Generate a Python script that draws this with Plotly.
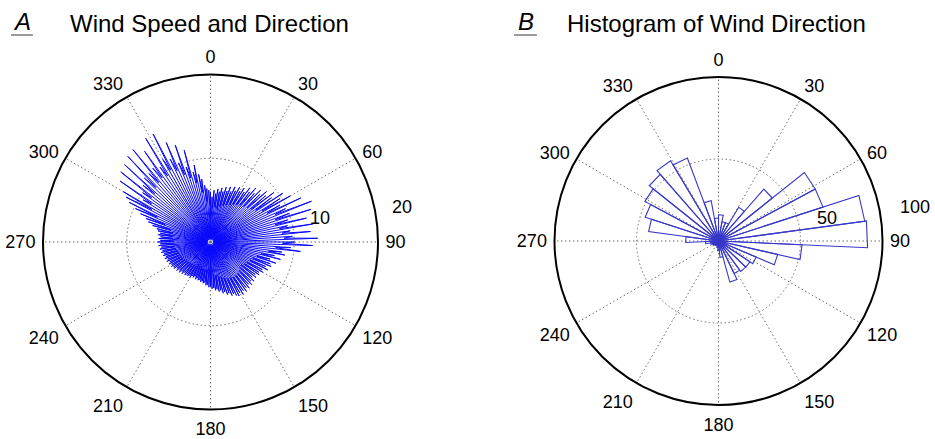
import plotly.graph_objects as go

# Panel A: wind samples ordered by direction (degrees from north, 1-degree steps)
# and the matching speeds (m/s), ten directions per row
wind_dir = list(range(0, 360))
wind_speed = [
    6.0, 0.4, 5.4, 4.0, 6.2, 0.8, 5.8, 4.2, 6.4, 0.3,
    6.1, 4.1, 6.6, 0.6, 6.2, 4.4, 6.8, 0.9, 6.4, 4.6,
    7.0, 0.5, 6.5, 4.8, 7.2, 0.4, 6.8, 5.0, 7.4, 0.8,
    7.0, 5.2, 7.6, 0.3, 7.2, 5.4, 8.0, 0.6, 7.6, 5.6,
    8.4, 0.9, 7.8, 5.8, 8.6, 0.5, 8.2, 6.0, 9.0, 0.4,
    8.6, 6.2, 9.6, 0.8, 9.0, 6.6, 10.4, 0.3, 9.8, 7.2,
    11.0, 0.6, 9.4, 7.6, 12.0, 0.9, 9.8, 8.4, 13.0, 0.5,
    10.0, 8.2, 12.6, 0.4, 9.6, 8.0, 11.8, 0.8, 9.4, 8.4,
    12.4, 0.3, 9.6, 8.6, 12.0, 0.6, 9.8, 8.8, 12.8, 0.9,
    10.0, 8.6, 12.2, 0.5, 9.6, 7.8, 10.8, 0.4, 8.6, 7.0,
    9.0, 0.8, 7.8, 6.2, 8.6, 0.3, 7.4, 5.8, 8.2, 0.6,
    7.6, 5.4, 7.8, 0.9, 7.2, 5.2, 7.6, 0.5, 7.0, 5.0,
    7.2, 0.4, 6.8, 4.8, 7.0, 0.8, 6.6, 4.6, 6.9, 0.3,
    6.5, 4.6, 7.0, 0.6, 6.7, 4.8, 7.1, 0.9, 6.8, 4.9,
    7.2, 0.5, 6.9, 5.0, 7.3, 0.4, 7.0, 5.0, 7.4, 0.8,
    7.0, 4.9, 7.3, 0.3, 7.1, 4.8, 6.8, 0.6, 6.9, 4.6,
    6.5, 0.9, 6.6, 4.4, 6.2, 0.5, 6.3, 4.2, 5.9, 0.4,
    6.0, 4.0, 5.7, 0.8, 5.8, 3.8, 5.5, 0.3, 5.6, 3.7,
    5.3, 0.6, 5.4, 3.6, 5.1, 0.9, 5.2, 3.5, 4.9, 0.5,
    5.0, 3.4, 4.8, 0.4, 4.9, 3.3, 4.7, 0.8, 4.8, 3.2,
    4.6, 0.3, 4.8, 3.2, 4.5, 0.6, 4.7, 3.1, 4.6, 0.9,
    4.9, 3.3, 4.7, 0.5, 4.9, 3.3, 4.8, 0.4, 5.0, 3.4,
    4.8, 0.8, 5.1, 3.4, 4.9, 0.3, 5.2, 3.5, 5.0, 0.6,
    5.3, 3.6, 5.1, 0.9, 5.4, 3.7, 5.3, 0.5, 5.5, 3.8,
    5.3, 0.4, 5.6, 3.9, 5.4, 0.8, 5.7, 4.0, 5.5, 0.3,
    5.8, 4.0, 5.6, 0.6, 5.9, 4.1, 5.7, 0.9, 6.0, 4.2,
    5.8, 0.5, 6.1, 4.3, 5.9, 0.4, 6.2, 4.4, 6.0, 0.8,
    6.3, 4.4, 6.0, 0.3, 6.2, 4.5, 6.0, 0.6, 6.3, 4.5,
    6.1, 0.9, 6.4, 4.6, 6.6, 0.5, 7.2, 5.0, 7.8, 0.4,
    8.2, 5.8, 9.0, 0.8, 9.8, 7.0, 10.8, 0.3, 11.4, 8.0,
    12.0, 0.6, 9.5, 8.4, 13.0, 0.9, 10.0, 8.8, 13.6, 0.5,
    10.5, 8.8, 13.8, 0.4, 11.0, 9.2, 14.2, 0.8, 11.0, 9.4,
    14.4, 0.3, 11.2, 9.6, 13.4, 0.6, 10.8, 9.4, 14.6, 0.9,
    11.4, 9.8, 14.6, 0.5, 11.0, 9.4, 13.0, 0.4, 10.2, 8.6,
    12.3, 0.8, 9.4, 8.0, 11.4, 0.3, 8.6, 7.2, 9.4, 0.6,
    8.2, 6.0, 7.6, 0.9, 6.8, 4.8, 6.4, 0.5, 6.2, 4.4,
]

# Panel B: direction histogram with 35 equal bins over the full circle
n_bins = 35
bin_count = [
    16, 12, 12, 24, 42, 67, 67, 90, 91, 51,
    37, 25, 23, 23, 22, 26, 10, 6, 4, 3,
    3, 3, 4, 4, 5, 8, 20, 43, 47, 51,
    54, 57, 54, 25, 14,
]

angle_ticks = [0, 30, 60, 90, 120, 150, 180, 210, 240, 270, 300, 330]

BLUE_A = "rgb(10,10,250)"
BLUE_B = "rgb(55,55,200)"
GRID = "rgb(110,110,110)"
FONT = "Arial, Liberation Sans, sans-serif"

fig = go.Figure()

# wind speed vs direction, drawn as a closed polyline
fig.add_trace(go.Scatterpolar(
    r=wind_speed + wind_speed[:1],
    theta=wind_dir + wind_dir[:1],
    mode="lines",
    line=dict(color=BLUE_A, width=1),
    subplot="polar",
    showlegend=False,
    hoverinfo="skip",
))

# rose histogram: each bin is an outlined wedge centre -> edge -> edge -> centre
bin_width = 360 / n_bins
rose_r, rose_t = [], []
for k, count in enumerate(bin_count):
    a0, a1 = k * bin_width, (k + 1) * bin_width
    rose_r += [0, count, count, 0, None]
    rose_t += [a0, a0, a1, a1, None]
fig.add_trace(go.Scatterpolar(
    r=rose_r,
    theta=rose_t,
    mode="lines",
    line=dict(color=BLUE_B, width=1.1),
    connectgaps=False,
    subplot="polar2",
    showlegend=False,
    hoverinfo="skip",
))


def polar_layout(domain_x, domain_y, rmax, rgrid):
    return dict(
        domain=dict(x=domain_x, y=domain_y),
        bgcolor="white",
        angularaxis=dict(
            rotation=90,
            direction="clockwise",
            tickmode="array",
            tickvals=angle_ticks,
            ticktext=[str(a) for a in angle_ticks],
            ticks="outside",
            ticklen=3,
            tickcolor="rgba(0,0,0,0)",
            showline=True,
            linecolor="black",
            linewidth=2,
            showgrid=True,
            gridcolor=GRID,
            griddash="1.5px,2.5px",
            gridwidth=1,
            tickfont=dict(family=FONT, size=18, color="black"),
        ),
        radialaxis=dict(
            range=[0, rmax],
            tickvals=rgrid,
            showticklabels=False,
            ticks="",
            showline=False,
            showgrid=True,
            gridcolor=GRID,
            griddash="1.5px,2.5px",
            gridwidth=1,
        ),
    )


W, H = 935, 439
fig.update_layout(
    width=W,
    height=H,
    margin=dict(l=0, r=0, t=0, b=0),
    paper_bgcolor="white",
    plot_bgcolor="white",
    polar=polar_layout([43 / W, 378 / W], [(H - 409.5) / H, (H - 74.5) / H], 20, [10]),
    polar2=polar_layout([554.5 / W, 882.5 / W], [(H - 405) / H, (H - 77) / H], 100, [50]),
)

ann = []


def label(x, y, text, size=18, xanchor="center", italic=False):
    ann.append(dict(
        x=x / W, y=1 - y / H, xref="paper", yref="paper",
        text=f"<i>{text}</i>" if italic else text,
        showarrow=False, xanchor=xanchor, yanchor="middle",
        font=dict(family=FONT, size=size, color="black"),
    ))


# panel letters and titles
label(22, 22, "A", size=24, italic=True)
label(68, 23, "Wind Speed and Direction", size=24, xanchor="left")
label(526, 22, "B", size=24, italic=True)
label(565, 23, "Histogram of Wind Direction", size=24, xanchor="left")

# radial scale labels
label(320, 218, "10")
label(402, 207, "20")
label(827, 218, "50")
label(915, 207, "100")

fig.update_layout(annotations=ann)

# underlines below the panel letters
for x0, x1 in [(11, 33), (514, 537)]:
    fig.add_shape(type="line", xref="paper", yref="paper",
                  x0=x0 / W, x1=x1 / W, y0=1 - 35 / H, y1=1 - 35 / H,
                  line=dict(color="rgb(120,120,120)", width=1.5))

fig.write_html("out.html")
